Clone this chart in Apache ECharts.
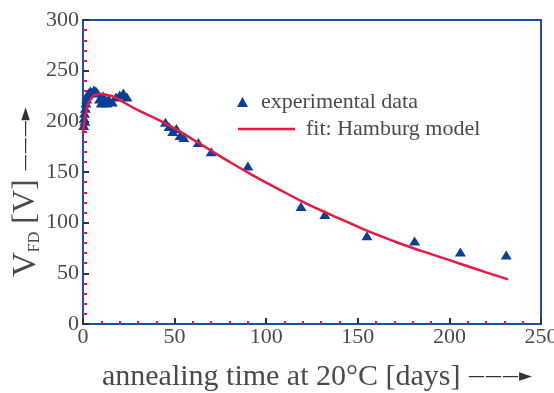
<!DOCTYPE html>
<html><head><meta charset="utf-8">
<script src="https://cdn.jsdelivr.net/npm/echarts@6/dist/echarts.min.js"></script>
<style>html,body{margin:0;padding:0;background:#fff}#c{width:554px;height:393px}</style>
</head><body><div id="c"></div>
<script>
// experimental data: [days, V_FD]
var expDays = [0.4,0.6,0.8,1,1.3,1.6,2,2.5,3,4,5,6,7,8,9,10,11,12,13,14,16,18,20,22,24,45,47,49,51,53,55,63,70,90,119,132,155,181,206,231];
var expV    = [196,203,208,200,213,218,222,226,228,230,229,231,230,228,222,218,225,220,218,222,219,224,226,228,224,199,195,190,193,186,184,179,170,156,116,108,87,82,71,68];
// Hamburg model fit: [days, V_FD]
var fitDays = [0,1,2,3,5,7,10,13,17,22,30,40,50,60,70,80,90,100,110,120,130,140,150,160,170,180,190,200,210,220,232];
var fitV    = [188,203,212,218,224,226.5,227,226,224,219,211,202.5,193,182,171,160,149.5,139.5,130,120.5,112,104,96,88.5,81.5,75,69,63,57,51,44];
var xTicks = [0,50,100,150,200,250];
var yTicks = [0,50,100,150,200,250,300];

var expData = expDays.map(function(d,i){return [d, expV[i]];});
var fitData = fitDays.map(function(d,i){return [d, fitV[i]];});

var serif = 'Liberation Serif';
var blue = '#1d4fa3', red = '#ec1840', grey = '#4a4a4a';
var chart = echarts.init(document.getElementById('c'), null, {renderer:'canvas'});
chart.setOption({
  animation:false,
  grid:{left:83, right:13, top:20, bottom:69, outerBoundsMode:'none', containLabel:false,
        show:true, borderColor:blue, borderWidth:2, backgroundColor:'#fff'},
  legend:[
    {data:[{name:'experimental data', icon:'triangle'}], left:232, top:86, itemWidth:11, itemHeight:10, orient:'vertical',
     textStyle:{fontFamily:serif, fontSize:22, color:grey, padding:[0,0,0,8]}},
    {data:[{name:'fit: Hamburg model', icon:'rect'}], left:233, top:113, itemWidth:57, itemHeight:2.5, orient:'vertical',
     textStyle:{fontFamily:serif, fontSize:22, color:grey, padding:[0,0,0,6]}}
  ],
  xAxis:{type:'value', min:xTicks[0], max:xTicks[xTicks.length-1], interval:50,
    axisLine:{lineStyle:{color:blue, width:2}},
    axisTick:{inside:true, length:6, lineStyle:{color:'#333', width:2}},
    minorTick:{show:true, splitNumber:5, length:3, lineStyle:{color:red, width:2}},
    splitLine:{show:false},
    axisLabel:{fontFamily:serif, fontSize:22, color:grey, margin:2},
    name:'annealing time at 20°C [days] {a|———►}', nameLocation:'middle', nameGap:38, nameMoveOverlap:false,
    nameTextStyle:{fontFamily:serif, fontSize:30, color:grey, padding:[0,0,0,10],
      rich:{a:{fontFamily:'DejaVu Sans', fontSize:17, color:'#333'}}}
  },
  yAxis:{type:'value', min:yTicks[0], max:yTicks[yTicks.length-1], interval:50,
    axisLine:{lineStyle:{color:blue, width:2}},
    axisTick:{inside:true, length:6, lineStyle:{color:'#333', width:2}},
    minorTick:{show:true, splitNumber:5, length:4, lineStyle:{color:red, width:2}},
    splitLine:{show:false},
    axisLabel:{fontFamily:serif, fontSize:22, color:grey, margin:4},
    name:'{v|V}{s|FD}{n| [V] }{a|———►}', nameLocation:'middle', nameGap:40, nameRotate:90, nameMoveOverlap:false,
    nameTextStyle:{color:grey, padding:[0,40,0,0], rich:{
      v:{fontFamily:serif, fontSize:34, color:grey},
      s:{fontFamily:serif, fontSize:16, color:grey, verticalAlign:'bottom', padding:[14,0,0,0]},
      n:{fontFamily:serif, fontSize:32, color:grey},
      a:{fontFamily:'DejaVu Sans', fontSize:17, color:'#333'}
    }}
  },
  series:[
    {name:'experimental data', type:'scatter', data:expData, symbol:'triangle', symbolSize:[11,9],
     itemStyle:{color:'#0b3f95', opacity:1}, z:3},
    {name:'fit: Hamburg model', type:'line', data:fitData, smooth:true, showSymbol:false, symbol:'none',
     lineStyle:{color:red, width:2.5}, itemStyle:{color:red}, z:4}
  ]
});
</script></body></html>
